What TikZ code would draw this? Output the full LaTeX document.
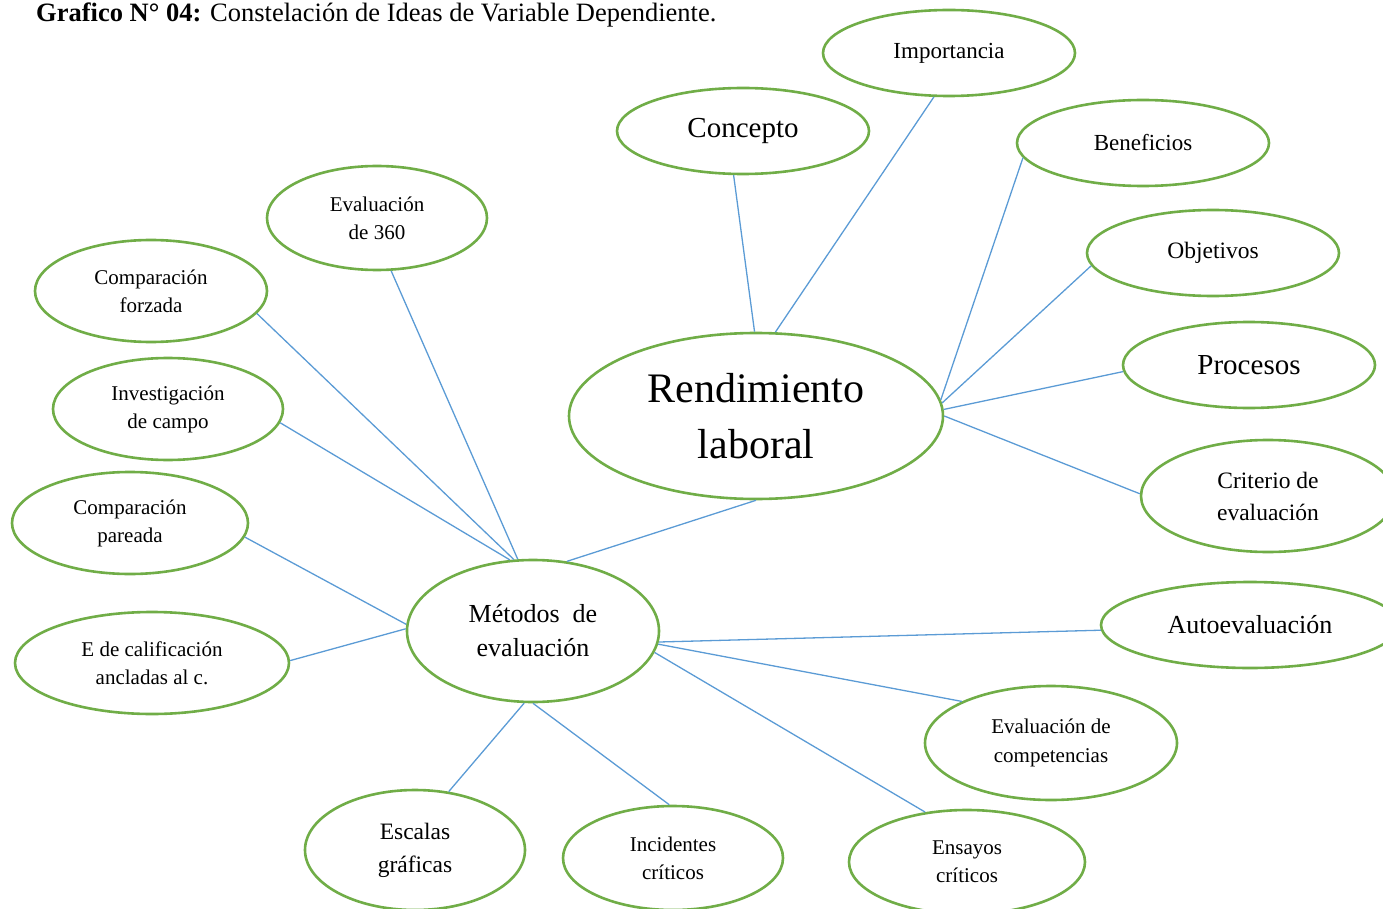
\documentclass[tikz,border=0pt]{standalone}
\usepackage{fontspec}
\setmainfont{Liberation Serif}
\usepackage{xcolor}
\usetikzlibrary{shapes.geometric}

\definecolor{verdeborde}{HTML}{70AD47}
\definecolor{azullinea}{HTML}{5B9BD5}
\newcommand{\tam}[2]{\fontsize{#1}{#2}\selectfont}

\begin{document}
\begin{tikzpicture}[x=1pt, y=-1pt,
    idea/.style={ellipse, draw=verdeborde, line width=2.6pt, fill=white,
        inner sep=0pt, align=center},
    enlace/.style={azullinea, line width=1.3pt}]
    \useasboundingbox (0,0) rectangle (1383,909);

    % 1. Titulo
    \node[anchor=base west, inner sep=0pt, font=\tam{26.5}{30}] (titulo) at (36,22)
        {\textbf{Grafico N° 04:} Constelación de Ideas de Variable Dependiente.};

    % 2. Idea central y sus ramas
    \node[idea, minimum width=374pt, minimum height=166pt, font=\tam{42}{56}] (rend) at (756,416) {Rendimiento\\laboral};
    \node[idea, minimum width=252pt, minimum height=86pt, font=\tam{29}{34}] (concepto) at (743,131) {Concepto};
    \node[idea, minimum width=252pt, minimum height=86pt, font=\tam{23}{28}] (importancia) at (949,53) {Importancia};
    \node[idea, minimum width=252pt, minimum height=86pt, font=\tam{23}{28}] (beneficios) at (1143,143) {Beneficios};
    \node[idea, minimum width=252pt, minimum height=86pt, font=\tam{23.5}{28}] (objetivos) at (1213,253) {Objetivos};
    \node[idea, minimum width=252pt, minimum height=86pt, font=\tam{29}{34}] (procesos) at (1249,365) {Procesos};
    \node[idea, minimum width=254pt, minimum height=112pt, font=\tam{23.5}{32}] (criterio) at (1268,496) {Criterio de\\evaluación};

    % 3. Metodos de evaluacion y sus ramas
    \node[idea, minimum width=252pt, minimum height=142pt, font=\tam{26}{34}] (metodos) at (533,631) {Métodos\ \ de\\evaluación};
    \node[idea, minimum width=298pt, minimum height=86pt, font=\tam{26}{30}] (auto) at (1250,625) {Autoevaluación};
    \node[idea, minimum width=252pt, minimum height=114pt, font=\tam{21}{29}] (competencias) at (1051,743) {Evaluación de\\competencias};
    \node[idea, minimum width=236pt, minimum height=104pt, font=\tam{21}{28}] (ensayos) at (967,862) {Ensayos\\críticos};
    \node[idea, minimum width=220pt, minimum height=104pt, font=\tam{21}{28}] (incidentes) at (673,858) {Incidentes\\críticos};
    \node[idea, minimum width=220pt, minimum height=120pt, font=\tam{23.5}{33}] (escalas) at (415,850) {Escalas\\gráficas};
    \node[idea, minimum width=274pt, minimum height=102pt, font=\tam{21}{28}] (calificacion) at (152,663) {E de calificación\\ancladas al c.};
    \node[idea, minimum width=236pt, minimum height=102pt, font=\tam{21}{28}] (pareada) at (130,523) {Comparación\\pareada};
    \node[idea, minimum width=230pt, minimum height=102pt, font=\tam{21}{28}] (investigacion) at (168,409) {Investigación\\de campo};
    \node[idea, minimum width=232pt, minimum height=102pt, font=\tam{21}{28}] (forzada) at (151,291) {Comparación\\forzada};
    \node[idea, minimum width=220pt, minimum height=104pt, font=\tam{21}{28}] (ev360) at (377,218) {Evaluación\\de 360};

    % 4. Enlaces
    \draw[enlace] (concepto.258) -- (rend.91);
    \draw[enlace] (importancia.251) -- (rend.77);
    \draw[enlace] (beneficios.187) -- (rend.5);
    \draw[enlace] (objetivos.186) -- (rend.4);
    \draw[enlace] (procesos.183) -- (rend.2);
    \draw[enlace] (criterio.179) -- (rend.0);
    \draw[enlace] (rend.270) -- (metodos.64);
    \draw[enlace] (ev360.285) -- (metodos.102);
    \draw[enlace] (forzada.348) -- (metodos.105);
    \draw[enlace] (investigacion.353) -- (metodos.108);
    \draw[enlace] (pareada.353) -- (metodos.177);
    \draw[enlace] (calificacion.1) -- (metodos.179);
    \draw[enlace] (escalas.60) -- (metodos.263);
    \draw[enlace] (incidentes.94) -- (metodos.270);
    \draw[enlace] (ensayos.130) -- (metodos.350);
    \draw[enlace] (competencias.155) -- (metodos.354);
    \draw[enlace] (auto.182) -- (metodos.355);
\end{tikzpicture}
\end{document}
